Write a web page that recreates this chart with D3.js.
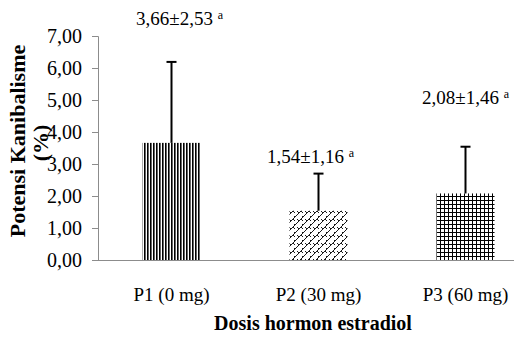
<!DOCTYPE html>
<html>
<head>
<meta charset="utf-8">
<script src="https://cdn.jsdelivr.net/npm/d3@7/dist/d3.min.js"></script>
<style>
  body { margin: 0; background: #fff; }
  text { font-family: "Liberation Serif", "Times New Roman", serif; fill: #000; }
</style>
</head>
<body>
<svg id="chart"></svg>
<script>
// data
const categories = ["P1 (0 mg)", "P2 (30 mg)", "P3 (60 mg)"];
const means = [3.66, 1.54, 2.08];
const sds = [2.53, 1.16, 1.46];
const letters = ["a", "a", "a"];
const yTicks = [0, 1, 2, 3, 4, 5, 6, 7];
const patterns = ["vstripe", "brick", "grid"];

// label nudges (px), the labels were placed by hand in the original
const labelLift = [37, 11, 43];
const labelShift = [8, -8, 0];

const width = 514;
const height = 340;
const axisColor = "#8c8c8c";

const svg = d3.select("#chart")
    .attr("width", width)
    .attr("height", height);

// fill patterns
const defs = svg.append("defs");

const vstripe = defs.append("pattern")
    .attr("id", "vstripe")
    .attr("patternUnits", "userSpaceOnUse")
    .attr("width", 3).attr("height", 3);
vstripe.append("rect").attr("width", 3).attr("height", 3).attr("fill", "#fff");
vstripe.append("rect").attr("width", 1.6).attr("height", 3).attr("fill", "#000");

const brick = defs.append("pattern")
    .attr("id", "brick")
    .attr("patternUnits", "userSpaceOnUse")
    .attr("width", 8).attr("height", 8);
brick.append("rect").attr("width", 8).attr("height", 8).attr("fill", "#fff");
brick.append("path")
    .attr("d", "M0,8 L8,0 M-4,4 L4,-4 M4,12 L12,4 M1,3 L3,5 M5,3 L7,5 M5,-1 L7,1 M-3,3 L-1,5")
    .attr("stroke", "#000")
    .attr("stroke-width", 0.9)
    .attr("fill", "none");

const grid = defs.append("pattern")
    .attr("id", "grid")
    .attr("patternUnits", "userSpaceOnUse")
    .attr("width", 4).attr("height", 4);
grid.append("rect").attr("width", 4).attr("height", 4).attr("fill", "#fff");
grid.append("path")
    .attr("d", "M0.5,0 V4 M0,0.5 H4")
    .attr("stroke", "#000")
    .attr("stroke-width", 1)
    .attr("fill", "none");

// scales
const x0 = 98;
const step = 147;
const xScale = d3.scaleBand()
    .domain(categories)
    .range([x0, x0 + step * categories.length])
    .paddingInner(0.605)
    .paddingOuter(0.3025);

const yScale = d3.scaleLinear()
    .domain([0, 7])
    .range([260, 36]);

// y axis
const yAxis = svg.append("g")
    .attr("transform", `translate(${x0}, 0)`)
    .call(d3.axisLeft(yScale)
        .tickValues(yTicks)
        .tickSize(6)
        .tickPadding(10)
        .tickFormat(d => d3.format(".2f")(d).replace(".", ",")));
yAxis.select(".domain").attr("stroke", axisColor);
yAxis.selectAll(".tick line").attr("stroke", axisColor);
yAxis.selectAll(".tick text")
    .attr("font-size", 20)
    .attr("fill", "#000");

// x axis (line only, labels below)
const xAxis = svg.append("g")
    .attr("transform", `translate(0, ${yScale(0)})`)
    .call(d3.axisBottom(xScale).tickSize(0).tickPadding(28));
xAxis.select(".domain")
    .attr("d", `M${x0},0.5H${width}`)
    .attr("stroke", axisColor);
xAxis.selectAll(".tick text")
    .attr("font-size", 19)
    .attr("fill", "#000");

// bars
svg.append("g")
    .selectAll("rect")
    .data(categories)
    .join("rect")
        .attr("x", (d) => xScale(d))
        .attr("y", (d, i) => yScale(means[i]))
        .attr("width", xScale.bandwidth())
        .attr("height", (d, i) => yScale(0) - yScale(means[i]))
        .attr("fill", (d, i) => `url(#${patterns[i]})`);

// error bars, upper half only
const err = svg.append("g")
    .attr("stroke", "#000")
    .attr("stroke-width", 2);
err.selectAll("line.stem")
    .data(categories)
    .join("line")
        .attr("class", "stem")
        .attr("x1", (d) => xScale(d) + xScale.bandwidth() / 2)
        .attr("x2", (d) => xScale(d) + xScale.bandwidth() / 2)
        .attr("y1", (d, i) => yScale(means[i]))
        .attr("y2", (d, i) => yScale(means[i] + sds[i]));
err.selectAll("line.cap")
    .data(categories)
    .join("line")
        .attr("class", "cap")
        .attr("x1", (d) => xScale(d) + xScale.bandwidth() / 2 - 5)
        .attr("x2", (d) => xScale(d) + xScale.bandwidth() / 2 + 5)
        .attr("y1", (d, i) => yScale(means[i] + sds[i]))
        .attr("y2", (d, i) => yScale(means[i] + sds[i]));

// value labels "mean±sd a"
const fmt = (v) => d3.format(".2f")(v).replace(".", ",");
const labels = svg.append("g")
    .selectAll("text")
    .data(categories)
    .join("text")
        .attr("x", (d, i) => xScale(d) + xScale.bandwidth() / 2 + labelShift[i])
        .attr("y", (d, i) => yScale(means[i] + sds[i]) - labelLift[i])
        .attr("text-anchor", "middle")
        .attr("font-size", 19);
labels.append("tspan")
    .text((d, i) => `${fmt(means[i])}±${fmt(sds[i])} `);
labels.append("tspan")
    .attr("font-size", 12)
    .attr("dy", -6)
    .text((d, i) => letters[i]);

// axis titles
svg.append("text")
    .attr("transform", `translate(25, 141) rotate(-90)`)
    .attr("text-anchor", "middle")
    .attr("font-size", 22)
    .attr("font-weight", "bold")
    .text("Potensi Kanibalisme");
svg.append("text")
    .attr("transform", `translate(48, 143) rotate(-90)`)
    .attr("text-anchor", "middle")
    .attr("font-size", 22)
    .attr("font-weight", "bold")
    .text("(%)");

svg.append("text")
    .attr("x", 313)
    .attr("y", 330)
    .attr("text-anchor", "middle")
    .attr("font-size", 20)
    .attr("font-weight", "bold")
    .text("Dosis hormon estradiol");
</script>
</body>
</html>
